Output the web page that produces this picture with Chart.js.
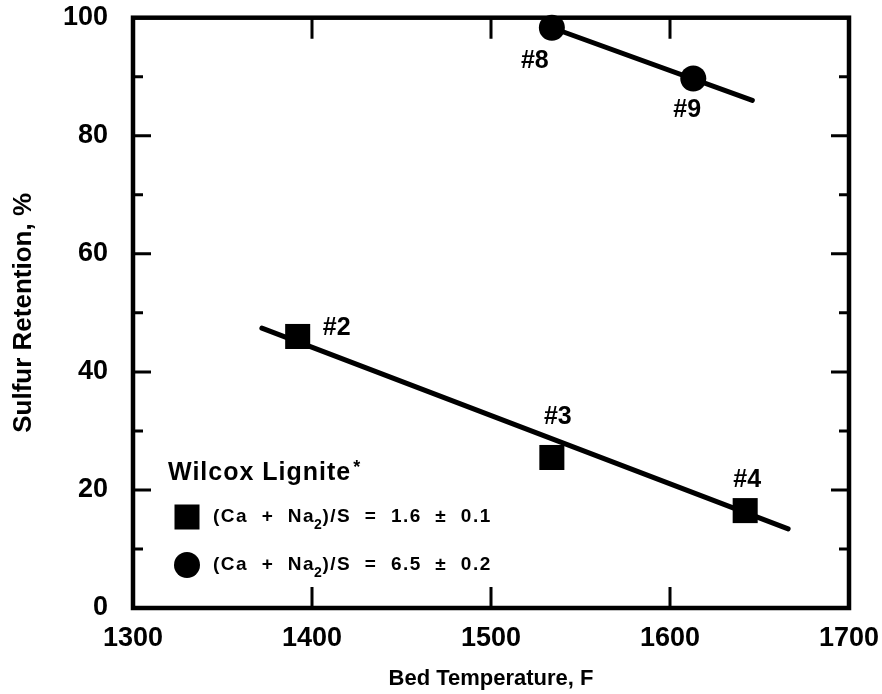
<!DOCTYPE html>
<html>
<head>
<meta charset="utf-8">
<script src="https://cdn.jsdelivr.net/npm/chart.js@4/dist/chart.umd.min.js"></script>
<style>
  body { margin: 0; background: #fff; }
  #wrap { width: 882px; height: 694px; }
</style>
</head>
<body>
<div id="wrap"><canvas id="myChart" width="882" height="694"></canvas></div>
<script>
// data
const squareTemp = [1392, 1534, 1642];
const squareRet = [46, 25.5, 16.5];
const squareNames = ['#2', '#3', '#4'];
const circleTemp = [1534, 1613];
const circleRet = [98.3, 89.7];
const circleNames = ['#8', '#9'];
const squareFitTemp = [1372, 1666];
const squareFitRet = [47.4, 13.4];
const circleFitTemp = [1534, 1646];
const circleFitRet = [98.3, 86.0];
const xTicks = [1300, 1400, 1500, 1600, 1700];
const yTicks = [0, 20, 40, 60, 80, 100];
const yMinorTicks = [10, 30, 50, 70, 90];
const legendTitle = 'Wilcox Lignite';
const legendRatios = ['1.6 \u00b1 0.1', '6.5 \u00b1 0.2'];

const toPts = (xs, ys) => xs.map((x, i) => ({ x: x, y: ys[i] }));
const FONT = '"Liberation Sans", Arial, sans-serif';

// no extra room for overflowing tick labels, the box is placed by hand
const noPad = s => { s.paddingTop = 0; s.paddingBottom = 0; s.paddingLeft = 0; s.paddingRight = 0; };

const frame = {
    id: 'frame',
    afterDatasetsDraw(chart) {
        const ctx = chart.ctx;
        const a = chart.chartArea;
        const xs = chart.scales.x, ys = chart.scales.y;
        ctx.save();
        ctx.strokeStyle = '#000';
        ctx.lineCap = 'butt';
        ctx.lineWidth = 3;
        // ticks, inward on all four sides
        ctx.beginPath();
        xTicks.slice(1, -1).forEach(v => {
            const px = xs.getPixelForValue(v);
            ctx.moveTo(px, a.bottom); ctx.lineTo(px, a.bottom - 21);
            ctx.moveTo(px, a.top); ctx.lineTo(px, a.top + 21);
        });
        yTicks.slice(1, -1).forEach(v => {
            const py = ys.getPixelForValue(v);
            ctx.moveTo(a.left, py); ctx.lineTo(a.left + 18, py);
            ctx.moveTo(a.right, py); ctx.lineTo(a.right - 18, py);
        });
        yMinorTicks.forEach(v => {
            const py = ys.getPixelForValue(v);
            ctx.moveTo(a.left, py); ctx.lineTo(a.left + 10, py);
            ctx.moveTo(a.right, py); ctx.lineTo(a.right - 10, py);
        });
        ctx.stroke();
        ctx.lineWidth = 4.5;
        ctx.strokeRect(a.left, a.top, a.right - a.left, a.bottom - a.top);

        // point labels
        ctx.fillStyle = '#000';
        ctx.font = 'bold 25px ' + FONT;
        ctx.textAlign = 'center';
        ctx.textBaseline = 'middle';
        const sqOff = [[39, -8], [6, -40], [2, -30]];
        const ciOff = [[-17, 33], [-6, 32]];
        squareNames.forEach((n, i) => {
            ctx.fillText(n, xs.getPixelForValue(squareTemp[i]) + sqOff[i][0], ys.getPixelForValue(squareRet[i]) + sqOff[i][1]);
        });
        circleNames.forEach((n, i) => {
            ctx.fillText(n, xs.getPixelForValue(circleTemp[i]) + ciOff[i][0], ys.getPixelForValue(circleRet[i]) + ciOff[i][1]);
        });

        // legend box inside the plot
        const lx = a.left + 35, ly = a.bottom - 135;
        ctx.textAlign = 'left';
        ctx.font = 'bold 25px ' + FONT;
        ctx.letterSpacing = '1px';
        ctx.fillText(legendTitle, lx, ly);
        const tw = ctx.measureText(legendTitle).width;
        ctx.font = 'bold 18px ' + FONT;
        ctx.fillText('*', lx + tw + 2, ly - 5);
        legendRatios.forEach((r, i) => {
            const cy = ly + 44 + i * 48;
            const mx = lx + 19;
            if (i === 0) {
                ctx.fillRect(mx - 12.5, cy - 12.5, 25, 25);
            } else {
                ctx.beginPath(); ctx.arc(mx, cy, 13, 0, Math.PI * 2); ctx.fill();
            }
            let tx = lx + 45;
            ctx.letterSpacing = '1.5px';
            ctx.font = 'bold 19px ' + FONT;
            const p1 = '(Ca  +  Na';
            ctx.fillText(p1, tx, cy);
            tx += ctx.measureText(p1).width;
            ctx.font = 'bold 14px ' + FONT;
            ctx.fillText('2', tx - 1, cy + 8);
            tx += ctx.measureText('2').width - 2;
            ctx.font = 'bold 19px ' + FONT;
            ctx.fillText(')/S  =  ' + r.replace(' \u00b1 ', '  \u00b1  '), tx, cy);
        });
        ctx.restore();
    }
};

const ctx = document.getElementById('myChart').getContext('2d');
const myChart = new Chart(ctx, {
    type: 'scatter',
    data: {
        datasets: [{
            label: 'Ca+Na2/S 1.6',
            data: toPts(squareTemp, squareRet),
            pointStyle: 'rect',
            pointRadius: 17.7,
            backgroundColor: '#000',
            borderColor: '#000',
            borderWidth: 0,
            clip: false,
            order: 0
        }, {
            label: 'Ca+Na2/S 6.5',
            data: toPts(circleTemp, circleRet),
            pointStyle: 'circle',
            pointRadius: 13,
            backgroundColor: '#000',
            borderColor: '#000',
            borderWidth: 0,
            clip: false,
            order: 0
        }, {
            label: 'fit 1.6',
            data: toPts(squareFitTemp, squareFitRet),
            showLine: true,
            pointRadius: 0,
            borderColor: '#000',
            borderWidth: 5,
            borderCapStyle: 'round',
            clip: false,
            order: 1
        }, {
            label: 'fit 6.5',
            data: toPts(circleFitTemp, circleFitRet),
            showLine: true,
            pointRadius: 0,
            borderColor: '#000',
            borderWidth: 5,
            borderCapStyle: 'round',
            clip: false,
            order: 1
        }]
    },
    options: {
        responsive: false,
        animation: false,
        layout: { padding: { top: 17, right: 33, left: 0, bottom: 0 } },
        plugins: {
            legend: { display: false },
            tooltip: { enabled: false }
        },
        scales: {
            x: {
                type: 'linear',
                min: 1300,
                max: 1700,
                afterBuildTicks: s => { s.ticks = xTicks.map(v => ({ value: v })); },
                afterFit: s => { s.height = 86; noPad(s); },
                grid: { display: false, drawTicks: false },
                border: { display: false },
                ticks: {
                    color: '#000',
                    padding: 14,
                    maxRotation: 0,
                    callback: v => String(v),
                    font: { family: FONT, size: 27, weight: 'bold' }
                },
                title: {
                    display: true,
                    text: 'Bed Temperature, F',
                    color: '#000',
                    padding: { top: 0, bottom: 2 },
                    font: { family: FONT, size: 22, weight: 'bold' }
                }
            },
            y: {
                type: 'linear',
                min: 0,
                max: 100,
                afterBuildTicks: s => { s.ticks = yTicks.map(v => ({ value: v })); },
                afterFit: s => { s.width = 133; noPad(s); },
                grid: { display: false, drawTicks: false },
                border: { display: false },
                ticks: {
                    color: '#000',
                    padding: 25,
                    callback: v => String(v),
                    font: { family: FONT, size: 27, weight: 'bold' }
                },
                title: {
                    display: true,
                    text: 'Sulfur Retention, %',
                    color: '#000',
                    padding: { top: 8, bottom: 0 },
                    font: { family: FONT, size: 26, weight: 'bold' }
                }
            }
        }
    },
    plugins: [frame]
});
</script>
</body>
</html>
